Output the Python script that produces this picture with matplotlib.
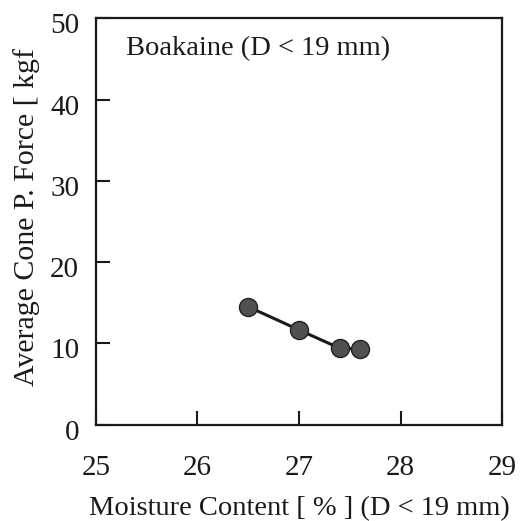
import matplotlib.pyplot as plt
from matplotlib.transforms import ScaledTranslation

# moisture content [%] and average cone penetration force [kgf]
moisture = [26.5, 27.0, 27.4, 27.6]
force = [14.5, 11.65, 9.4, 9.3]

x_ticks = [25, 26, 27, 28, 29]
y_ticks = [0, 10, 20, 30, 40, 50]

plt.rcParams['font.family'] = ['Liberation Serif', 'DejaVu Serif']


def main():
    fig = plt.figure(figsize=(5.27, 5.21), dpi=100)
    ax = fig.add_axes([0.182, 0.185, 0.771, 0.780])

    ax.plot(moisture, force, color='#1a1a1a', linewidth=2.2,
            marker='o', markersize=13, markerfacecolor='#505050',
            markeredgecolor='#222222', markeredgewidth=1.0)

    ax.set_xlim(25, 29)
    ax.set_ylim(0, 50)
    ax.set_xticks(x_ticks)
    ax.set_yticks(y_ticks)
    ax.tick_params(direction='in', length=10, width=1.5, labelsize=21,
                   colors='#1a1a1a')
    ax.tick_params(axis='x', pad=22)
    ax.tick_params(axis='y', pad=12)
    for s in ax.spines.values():
        s.set_linewidth(1.6)
        s.set_color('#1a1a1a')

    # y tick labels sit a little below their ticks in the original
    shift = ScaledTranslation(0, -0.05, fig.dpi_scale_trans)
    for lbl in ax.get_yticklabels():
        lbl.set_transform(lbl.get_transform() + shift)

    ax.text(0.075, 0.957, 'Boakaine (D < 19 mm)', transform=ax.transAxes,
            fontsize=20.5, va='top', ha='left', color='#1a1a1a')

    ax.set_xlabel('Moisture Content [ % ] (D < 19 mm)', fontsize=20.5,
                  color='#1a1a1a', labelpad=11)

    fig.text(27 / 527, (521 - 386) / 521, 'Average Cone P. Force [ kgf',
             rotation=90, ha='center', va='bottom', fontsize=21.5,
             color='#1a1a1a')

    fig.savefig('out.png', dpi=100)


if __name__ == "__main__":
    main()
